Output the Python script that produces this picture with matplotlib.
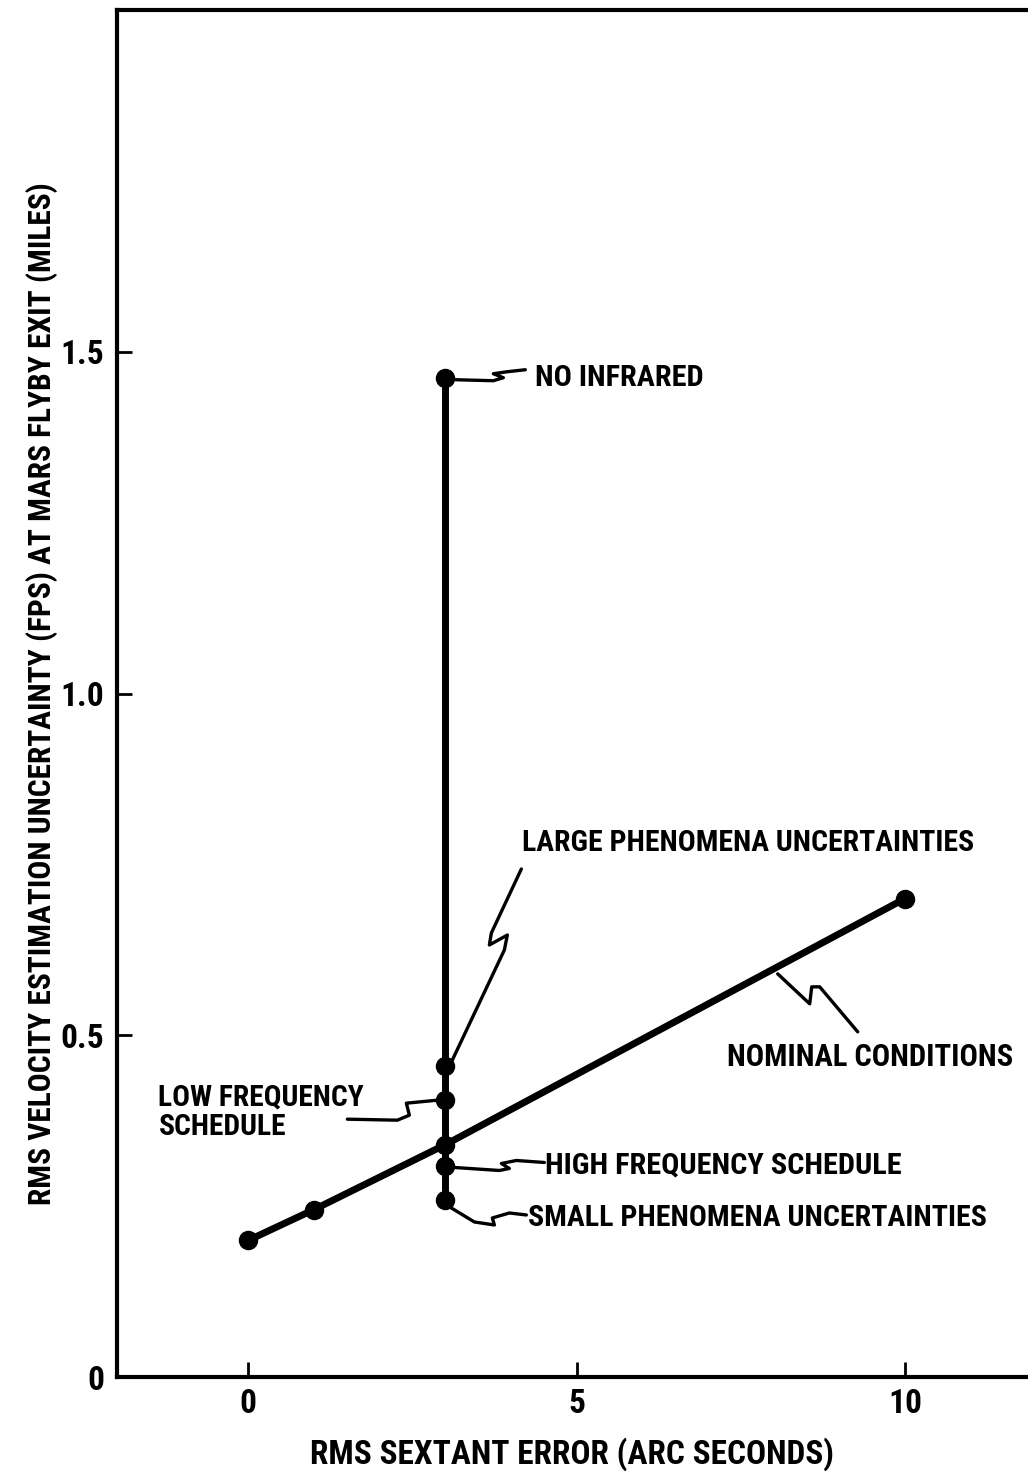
import matplotlib
matplotlib.use("Agg")
import matplotlib.pyplot as plt
import matplotlib.transforms as mtransforms
from matplotlib import font_manager
from matplotlib.font_manager import FontProperties
import numpy as np

# ---------------- data ----------------
nominal_x = [0, 1, 3, 10]
nominal_y = [0.20, 0.245, 0.34, 0.70]

variant_x = [3, 3, 3, 3, 3]
variant_y = [0.259, 0.308, 0.405, 0.455, 1.462]
variant_names = ["SMALL PHENOMENA UNCERTAINTIES", "HIGH FREQUENCY SCHEDULE",
                 "LOW FREQUENCY\nSCHEDULE", "LARGE PHENOMENA UNCERTAINTIES",
                 "NO INFRARED"]
nominal_name = "NOMINAL CONDITIONS"

x_ticks = [0, 5, 10]
x_ticklabels = ["0", "5", "10"]
y_ticks = [0, 0.5, 1.0, 1.5]
y_ticklabels = ["0", "0.5", "1.0", "1.5"]
x_label = "RMS SEXTANT ERROR (ARC SECONDS)"
y_label = "RMS VELOCITY ESTIMATION UNCERTAINTY (FPS) AT MARS FLYBY EXIT (MILES)"

# ---------------- font: look for a bold condensed face ----------------
def find_condensed():
    prefs = ["Liberation Sans Narrow", "Roboto Condensed", "Open Sans Condensed",
             "Noto Sans", "DejaVu Sans", "Open Sans", "Roboto", "Inter", "Lato"]
    cands = []
    for f in font_manager.fontManager.ttflist:
        nm = f.name
        path = f.fname.lower()
        condensed = (f.stretch in ("condensed", "semi-condensed", "extra-condensed",
                                   "ultra-condensed", 375, 500, 625, 750)
                     or "condensed" in nm.lower() or "narrow" in nm.lower()
                     or "condensed" in path or "narrow" in path or "cond" in path)
        if not condensed:
            continue
        w = f.weight if isinstance(f.weight, int) else (700 if "bold" in str(f.weight) else 400)
        if "italic" in path or "oblique" in path or f.style != "normal":
            continue
        rank = next((i for i, p in enumerate(prefs) if nm.startswith(p)), len(prefs))
        cands.append((rank, abs(w - 700), f.fname))
    if cands:
        cands.sort()
        return cands[0][2]
    return None

cpath = find_condensed()
if cpath:
    FP = lambda size: FontProperties(fname=cpath, size=size)
else:
    FP = lambda size: FontProperties(family="DejaVu Sans", weight="bold", size=size)

fig = plt.figure(figsize=(10.28, 14.71), dpi=100)
ax = fig.add_axes([117/1028, (1471-1377)/1471, 1 - 117/1028, (1377-10)/1471])
ax.set_xlim(-2.0, (1028-248)/65.7)
ax.set_ylim(0, 2.0)

LW = 5.0
MS = 13
ax.plot(nominal_x, nominal_y, color='black', lw=LW, marker='o', ms=MS,
        solid_capstyle='round', zorder=3)
ax.plot([variant_x[0], variant_x[-1]], [min(variant_y), max(variant_y)],
        color='black', lw=LW, solid_capstyle='round', zorder=3)
ax.plot(variant_x, variant_y, ls='none', marker='o', ms=MS, color='black', zorder=4)

for s in ['left', 'bottom', 'top']:
    ax.spines[s].set_linewidth(3)
ax.spines['right'].set_visible(False)

ax.set_xticks(x_ticks)
ax.set_yticks(y_ticks)
ax.set_xticklabels(x_ticklabels, fontproperties=FP(24))
ax.set_yticklabels(y_ticklabels, fontproperties=FP(24))
ax.tick_params(axis='both', direction='in', length=11, width=2)
ax.tick_params(axis='x', pad=8)
ax.tick_params(axis='y', pad=9)

xl = ax.set_xlabel(x_label, fontproperties=FP(22), labelpad=12)
yl = ax.set_ylabel(y_label, fontproperties=FP(22), labelpad=2)

def px_to_data(px, py):
    return (px - 248) / 65.7, (1377 - py) / 684

def leader(xd, yd, offsets_px):
    trans = fig.dpi_scale_trans + mtransforms.ScaledTranslation(xd, yd, ax.transData)
    xs = [o[0] / 100 for o in offsets_px]
    ys = [-o[1] / 100 for o in offsets_px]
    ax.plot(xs, ys, transform=trans, color='black', lw=2.4, clip_on=False,
            solid_joinstyle='round', solid_capstyle='round', zorder=2)

texts = []  # (text artist, target width in px)

def label(px, py, s, width_px, va='center'):
    tx, ty = px_to_data(px, py)
    t = ax.text(tx, ty, s, fontproperties=FP(22), va=va, ha='left', linespacing=1.1)
    texts.append((t, width_px))
    return t

label(535, 377, variant_names[4], 168)
leader(variant_x[4], variant_y[4], [(10, 2), (48, 3), (58, 0), (48, -4), (62, -6), (80, -8)])

label(522, 843, variant_names[3], 451)
leader(variant_x[3], variant_y[3], [(7, -6), (59, -116), (62, -131), (44, -121), (46, -133), (76, -197)])

label(158, 1083, variant_names[2], 205, va='top')
leader(variant_x[2], variant_y[2], [(-8, 0), (-39, 3), (-36, 15), (-48, 20), (-98, 19)])

label(545, 1165, variant_names[1], 355)
leader(variant_x[1], variant_y[1], [(9, 1), (54, 4), (64, 2), (56, -3), (71, -6), (99, -4)])

label(528, 1218, variant_names[0], 457)
leader(variant_x[0], variant_y[0], [(6, 8), (29, 22), (49, 25), (47, 18), (64, 13), (81, 15)])

label(727, 1057, nominal_name, 286)
anchor_x = 8.0
leader(anchor_x, float(np.interp(anchor_x, nominal_x, nominal_y)),
       [(4, 5), (36, 35), (38, 18), (46, 18), (84, 63)])

# fit text widths to the reference
fig.canvas.draw()
r = fig.canvas.get_renderer()
for t, w in texts:
    bb = t.get_window_extent(r)
    t.set_fontsize(t.get_fontsize() * w / bb.width)
bb = xl.get_window_extent(r)
xl.set_fontsize(xl.get_fontsize() * 522 / bb.width)
bb = yl.get_window_extent(r)
yl.set_fontsize(yl.get_fontsize() * 1020 / bb.height)

fig.savefig("out.png", dpi=100)
